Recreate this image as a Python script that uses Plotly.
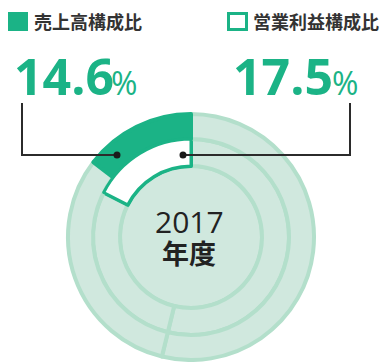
import plotly.graph_objects as go

# ---- data -------------------------------------------------------------
fiscal_year = "2017"
year_suffix = "年度"
series_names = ["売上高構成比", "営業利益構成比"]
share_values = [14.6, 17.5]          # % share of the segment
share_labels = ["14.6", "17.5"]
# the other segments of each ring, clockwise from 12 o'clock
sales_other = [53.8, 31.6]
profit_other = [53.8, 28.7]

# ---- style ------------------------------------------------------------
W, H = 383, 362
GREEN = "#1bb386"
LIGHT = "#d0e8de"
LIGHT_LINE = "#b3dfcb"
DARK = "#2b2b2b"
CX, CY = 191, 237          # ring centre in pixels (from top-left)
R_OUTER, R_MID, R_IN = 123, 98, 71


def domain(r):
    return dict(x=[(CX - r) / W, (CX + r) / W],
                y=[(H - CY - r) / H, (H - CY + r) / H])


fig = go.Figure()
# clockwise from 12 o'clock, so the highlighted (last) slice ends at the top
common = dict(sort=False, direction="clockwise", rotation=0,
              textinfo="none", hoverinfo="skip", showlegend=False)

# inner disc
fig.add_trace(go.Pie(values=[1], domain=domain(R_IN), hole=0,
                     marker=dict(colors=[LIGHT], line=dict(color=LIGHT_LINE, width=4)),
                     **common))
# middle ring: operating profit share
fig.add_trace(go.Pie(values=profit_other + [share_values[1]], domain=domain(R_MID),
                     hole=R_IN / R_MID,
                     marker=dict(colors=[LIGHT, LIGHT, "white"],
                                 line=dict(color=[LIGHT_LINE, LIGHT_LINE, GREEN], width=4)),
                     **common))
# outer ring: sales share
fig.add_trace(go.Pie(values=sales_other + [share_values[0]], domain=domain(R_OUTER),
                     hole=R_MID / R_OUTER,
                     marker=dict(colors=[LIGHT, LIGHT, GREEN],
                                 line=dict(color=[LIGHT_LINE, LIGHT_LINE, GREEN], width=4)),
                     **common))
# outline of the profit slice drawn on top
fig.add_trace(go.Pie(values=[100 - share_values[1], share_values[1]], domain=domain(R_MID),
                     hole=R_IN / R_MID,
                     marker=dict(colors=["rgba(0,0,0,0)", "white"],
                                 line=dict(color=["rgba(0,0,0,0)", GREEN], width=3)),
                     **common))

shapes = []
# legend squares
shapes.append(dict(type="rect", x0=8, x1=28, y0=12, y1=31, fillcolor=GREEN,
                   line=dict(width=0)))
shapes.append(dict(type="rect", x0=228.5, x1=246.5, y0=13.5, y1=29.5, fillcolor="white",
                   line=dict(color=GREEN, width=3)))
# leader lines
shapes.append(dict(type="path", path="M 22,103 L 22,155 L 117,155",
                   line=dict(color=DARK, width=2), layer="above"))
shapes.append(dict(type="path", path="M 183,155 L 350,155 L 350,103",
                   line=dict(color=DARK, width=2), layer="above"))
for x in (117, 183):
    shapes.append(dict(type="circle", x0=x - 3.5, x1=x + 3.5, y0=155 - 3.5, y1=155 + 3.5,
                       fillcolor="#1a1a1a", line=dict(width=0), layer="above"))

ann = []
jp = "Noto Sans CJK JP"
ann.append(dict(x=32, y=21, text=series_names[0], xanchor="left", yanchor="middle",
                font=dict(family=jp, size=18, color="#333333", weight="bold")))
ann.append(dict(x=251, y=21, text=series_names[1], xanchor="left", yanchor="middle",
                font=dict(family=jp, size=18, color="#333333", weight="bold")))
for x_num, lab in ((12, share_labels[0]), (231, share_labels[1])):
    ann.append(dict(x=x_num, y=76, text=lab, xanchor="left", yanchor="middle",
                    font=dict(family="Open Sans", size=50, color=GREEN, weight="bold")))
ann.append(dict(x=109, y=82, text="%", xanchor="left", yanchor="middle",
                font=dict(family="Open Sans", size=32, color=GREEN)))
ann.append(dict(x=330, y=82, text="%", xanchor="left", yanchor="middle",
                font=dict(family="Open Sans", size=32, color=GREEN)))
ann.append(dict(x=CX - 2, y=221, text=fiscal_year, xanchor="center", yanchor="middle",
                font=dict(family="Open Sans", size=30, color="#222222")))
ann.append(dict(x=CX - 2, y=252, text=year_suffix, xanchor="center", yanchor="middle",
                font=dict(family=jp, size=27, color="#222222", weight="bold")))
for a in ann:
    a.update(showarrow=False, xref="x", yref="y")

fig.update_layout(
    width=W, height=H, margin=dict(l=0, r=0, t=0, b=0),
    paper_bgcolor="white", plot_bgcolor="rgba(0,0,0,0)",
    xaxis=dict(range=[0, W], visible=False, fixedrange=True, domain=[0, 1]),
    yaxis=dict(range=[H, 0], visible=False, fixedrange=True, domain=[0, 1]),
    shapes=shapes, annotations=ann,
)
fig.write_html("out.html")
